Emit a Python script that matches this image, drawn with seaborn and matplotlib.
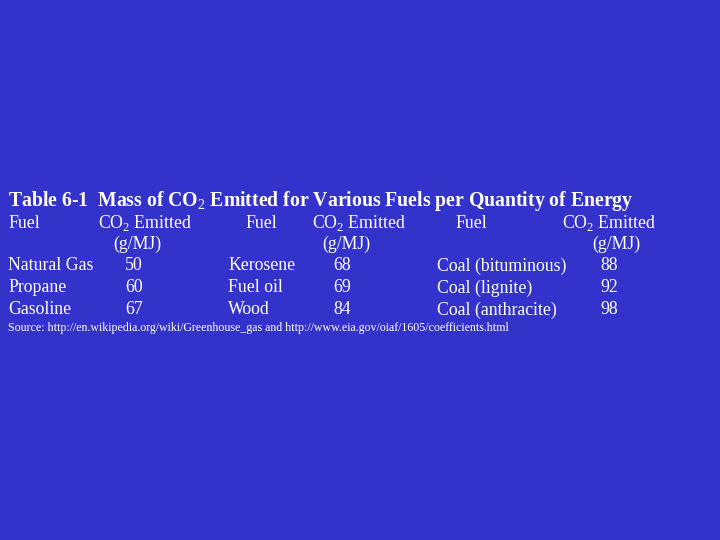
import matplotlib
matplotlib.use("Agg")
import matplotlib.pyplot as plt
import seaborn as sns

# table data
fuels_a = ["Natural Gas", "Propane", "Gasoline"]
co2_a = [50, 60, 67]
fuels_b = ["Kerosene", "Fuel oil", "Wood"]
co2_b = [68, 69, 84]
fuels_c = ["Coal (bituminous)", "Coal (lignite)", "Coal (anthracite)"]
co2_c = [88, 92, 98]

title = "Table 6-1  Mass of CO$_2$ Emitted for Various Fuels per Quantity of Energy"
source = ("Source: http://en.wikipedia.org/wiki/Greenhouse_gas and "
          "http://www.eia.gov/oiaf/1605/coefficients.html")

sns.set_theme(style="white")
plt.rcParams["font.family"] = ["Liberation Serif", "DejaVu Serif"]
plt.rcParams["mathtext.fontset"] = "custom"
plt.rcParams["mathtext.rm"] = "Liberation Serif"
plt.rcParams["mathtext.bf"] = "Liberation Serif:bold"

bg = "#3333CC"
fig = plt.figure(figsize=(7.2, 5.4), dpi=100, facecolor=bg)
ax = fig.add_axes([0, 0, 1, 1])
ax.set_facecolor(bg)
ax.set_xlim(0, 720)
ax.set_ylim(540, 0)
ax.axis("off")

fs = 12.8
ax.text(8, 201, title, color="white", fontsize=14.2, fontweight="bold", va="center")

# column groups: (fuel x, fuel header x, co2 header x, unit x, value x)
groups = [
    (fuels_a, co2_a, 8, 8, 98, 113, 125),
    (fuels_b, co2_b, 228, 245, 312, 322, 333),
    (fuels_c, co2_c, 437, 455, 562, 592, 600),
]
rows_y = [266, 288, 310]
for names, vals, fx, hx, cx, ux, vx in groups:
    ax.text(hx, 223, "Fuel", color="white", fontsize=fs, va="center")
    ax.text(cx, 223, "CO$_2$ Emitted", color="white", fontsize=fs, va="center")
    ax.text(ux, 244, "(g/MJ)", color="white", fontsize=fs, va="center")
    for name, v, y in zip(names, vals, rows_y):
        ax.text(fx, y, name, color="white", fontsize=fs, va="center")
        ax.text(vx, y, str(v), color="white", fontsize=fs, va="center")

ax.text(8, 328, source, color="white", fontsize=8.6, va="center")

fig.savefig("out.png", dpi=100, facecolor=bg)
